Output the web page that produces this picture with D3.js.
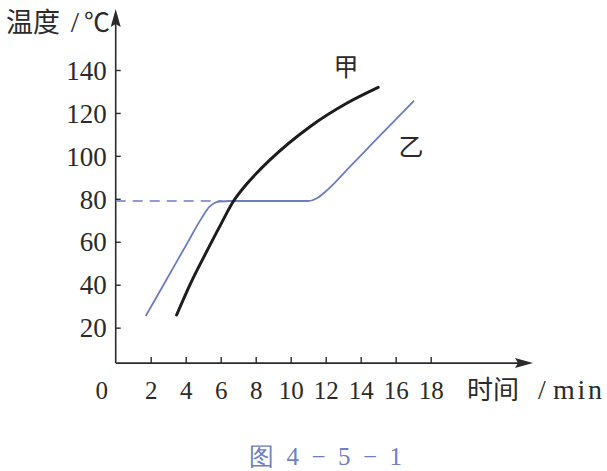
<!DOCTYPE html>
<html><head><meta charset="utf-8">
<script src="https://cdn.jsdelivr.net/npm/d3@7"></script>
<style>
body{margin:0;background:#fff}
.serif{font-family:"Liberation Serif","Times New Roman","DejaVu Serif",serif !important;}
.cjk{font-family:"Noto Sans CJK SC","Noto Sans CJK JP",sans-serif;}
</style>
</head><body>
<svg id="c" width="607" height="471"></svg>
<script>
// ---- data ----
const xTicks = [2, 4, 6, 8, 10, 12, 14, 16, 18];
const yTicks = [20, 40, 60, 80, 100, 120, 140];
const seriesJia = [[3.48,25.9],[4.3,41],[5.2,55.5],[6.0,68],[6.7,78.5],[7.5,87],[8.8,98],[11.1,113.6],[13.2,124.5],[15.0,131.9]];
const seriesYi = [[1.71,25.4],[2.5,36.6],[3.3,48.1],[4.1,59.5],[4.9,70.9],[5.35,76.2],[5.9,78.7],[6.6,79],[11.0,79],[11.5,80.3],[12.1,84.2],[13.4,95.1],[14.6,105.2],[15.8,115.3],[17.05,125.7]];
const plateau = [[0,79],[6.1,79]];
const seriesLabels = ["甲", "乙"];
const yTitle = ["温度", "/", "℃"];
const xTitle = ["时间", "/", "min"];
const caption = "图 4 − 5 − 1";

const svg = d3.select("#c");
svg.append("rect").attr("width",607).attr("height",471).attr("fill","#fff");

const x = d3.scaleLinear().domain([0, 18]).range([115.7, 430.7]);
const y = d3.scaleLinear().domain([0, 140]).range([370.6, 70]);
const axisY = y(3.5);
const ink = "#2a2a2a";
const blue = "#6b7cc0";

// axes lines with arrows
svg.append("line").attr("x1", x(0)).attr("x2", 528).attr("y1", axisY).attr("y2", axisY)
  .attr("stroke", ink).attr("stroke-width", 1.6);
svg.append("path").attr("d", `M533,${axisY} L515,${axisY-5} L518,${axisY} L515,${axisY+5} Z`).attr("fill", ink);
svg.append("line").attr("x1", x(0)).attr("x2", x(0)).attr("y1", axisY).attr("y2", 16)
  .attr("stroke", ink).attr("stroke-width", 1.6);
svg.append("path").attr("d", `M${x(0)},9 L${x(0)-5},27 L${x(0)},24 L${x(0)+5},27 Z`).attr("fill", ink);

// y axis (ticks inward)
const gy = svg.append("g").attr("transform", `translate(${x(0)},0)`)
  .call(d3.axisLeft(y).tickValues(yTicks).tickSizeInner(-5).tickSizeOuter(0).tickPadding(9));
gy.attr("font-family", null);
gy.select(".domain").remove();
gy.selectAll("line").attr("stroke", ink).attr("stroke-width", 1.4);
gy.selectAll("text").attr("class", "serif").attr("font-size", 27).attr("fill", ink).attr("dy", "0.34em");

// x axis (ticks inward)
const gx = svg.append("g").attr("transform", `translate(0,${axisY})`)
  .call(d3.axisBottom(x).tickValues(xTicks).tickSizeInner(-6).tickSizeOuter(0).tickPadding(18));
gx.attr("font-family", null);
gx.select(".domain").remove();
gx.selectAll("line").attr("stroke", ink).attr("stroke-width", 1.4);
gx.selectAll("text").attr("class", "serif").attr("font-size", 25).attr("fill", ink).attr("dy", "0.71em");
svg.append("text").attr("class", "serif").attr("x", x(0) - 14).attr("y", axisY + 18).attr("dy", "0.71em")
  .attr("text-anchor", "middle").attr("font-size", 25).attr("fill", ink).text("0");

// dashed reference line
const line = d3.line().x(d => x(d[0])).y(d => y(d[1]));
svg.append("path").datum(plateau).attr("d", line).attr("fill", "none")
  .attr("stroke", blue).attr("stroke-width", 1.6).attr("stroke-dasharray", "10,7");

// series
const curve = d3.line().x(d => x(d[0])).y(d => y(d[1])).curve(d3.curveMonotoneX);
svg.append("path").datum(seriesYi).attr("d", curve).attr("fill", "none")
  .attr("stroke", blue).attr("stroke-width", 1.8).attr("stroke-linejoin", "round");
svg.append("path").datum(seriesJia).attr("d", curve).attr("fill", "none")
  .attr("stroke", "#1c1c1c").attr("stroke-width", 3).attr("stroke-linecap", "round");

// series labels
svg.append("text").attr("class", "cjk").attr("x", 346).attr("y", 76).attr("text-anchor", "middle")
  .attr("font-size", 25).attr("fill", ink).text(seriesLabels[0]);
svg.append("text").attr("class", "cjk").attr("x", 411).attr("y", 156).attr("text-anchor", "middle")
  .attr("font-size", 25).attr("fill", ink).text(seriesLabels[1]);

// axis titles
svg.append("text").attr("class", "cjk").attr("x", 6).attr("y", 32).attr("font-size", 27)
  .attr("fill", ink).text(yTitle[0]);
svg.append("text").attr("class", "serif").attr("x", 75).attr("y", 32).attr("text-anchor", "middle")
  .attr("font-size", 30).attr("fill", ink).text(yTitle[1]);
svg.append("text").attr("class", "cjk").attr("x", 84).attr("y", 32).attr("font-size", 26)
  .attr("fill", ink).text(yTitle[2]);

svg.append("text").attr("class", "cjk").attr("x", 467).attr("y", 399).attr("font-size", 26)
  .attr("fill", ink).text(xTitle[0]);
svg.append("text").attr("class", "serif").attr("x", 542).attr("y", 399).attr("text-anchor", "middle")
  .attr("font-size", 28).attr("fill", ink).text(xTitle[1]);
svg.append("text").attr("class", "serif").attr("x", 553).attr("y", 399).attr("font-size", 28)
  .attr("textLength", 49).attr("lengthAdjust", "spacing").attr("fill", ink).text(xTitle[2]);

// caption
svg.append("text").attr("class", "serif").attr("x", 249).attr("y", 465).attr("font-size", 25)
  .attr("textLength", 153).attr("lengthAdjust", "spacing").attr("fill", "#6f7fc2").text(caption);
</script>
</body></html>
